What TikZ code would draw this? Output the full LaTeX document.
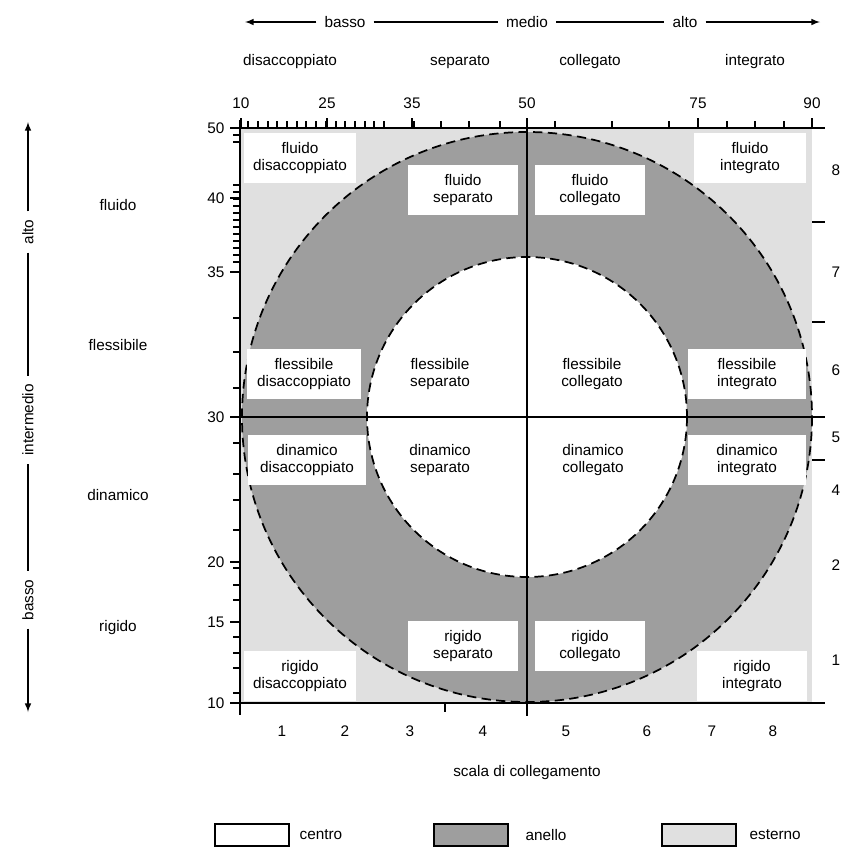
\documentclass[tikz,border=0pt]{standalone}
\usepackage{fontspec}
\setmainfont{Liberation Sans}
\definecolor{ringgray}{HTML}{9E9E9E}
\definecolor{outergray}{HTML}{E0E0E0}
\begin{document}
\begin{tikzpicture}[x=0.75pt,y=-0.75pt,
  lbl/.style={font=\fontsize{11.5}{13}\selectfont, inner sep=1pt},
  cell/.style={lbl, align=center, text width=80pt},
  cellbox/.style={cell, fill=white, minimum height=38pt},
  axisline/.style={line width=1.5pt},
  tick/.style={line width=1pt},
  dashring/.style={line width=1.3pt, dash pattern=on 7pt off 4pt},
  legbox/.style={draw=black, line width=1.4pt, minimum width=55pt, minimum height=17pt, inner sep=0pt},
  scalearrow/.style={line width=1.2pt, -latex}]
\useasboundingbox (0,0) rectangle (841,850);

% square field with the two rings
\fill[outergray] (240,128) rectangle (812,703);
\fill[ringgray] (527,417) circle[radius=285];
\fill[white] (527,417) circle[radius=160];
\draw[dashring] (527,417) circle[radius=285];
\draw[dashring] (527,417) circle[radius=160];

% cells
\node[cellbox, text width=82pt] (fd) at (300,158) {fluido\\disaccoppiato};
\node[cellbox] (fs) at (463,190) {fluido\\separato};
\node[cellbox] (fc) at (590,190) {fluido\\collegato};
\node[cellbox, text width=82pt] (fi) at (750,158) {fluido\\integrato};

\node[cellbox, text width=83pt] (ld) at (304,374) {flessibile\\disaccoppiato};
\node[cell] (ls) at (440,374) {flessibile\\separato};
\node[cell] (lc) at (592,374) {flessibile\\collegato};
\node[cellbox, text width=86pt] (li) at (747,374) {flessibile\\integrato};

\node[cellbox, text width=86pt] (dd) at (307,460) {dinamico\\disaccoppiato};
\node[cell] (ds) at (440,460) {dinamico\\separato};
\node[cell] (dc) at (593,460) {dinamico\\collegato};
\node[cellbox, text width=86pt] (di) at (747,460) {dinamico\\integrato};

\node[cellbox] (rs) at (463,646) {rigido\\separato};
\node[cellbox] (rc) at (590,646) {rigido\\collegato};
\node[cellbox, text width=82pt] (rd) at (300,676) {rigido\\disaccoppiato};
\node[cellbox, text width=80pt] (ri) at (752,676) {rigido\\integrato};

% crossing axes
\draw[axisline] (527,128) -- (527,712);
\draw[axisline] (240,417) -- (825,417);

% frame axes
\draw[axisline] (240,120) -- (240,712);
\draw[axisline] (232,128) -- (825,128);
\draw[axisline] (232,703) -- (825,703);

% top ticks
\foreach \x in {248,258,268,277,287,297,306,316,326,336,345,355,365,374,384,414,441,469,500,555,612,669,727,755,784}
  \draw[tick] (\x,128) -- (\x,121);
\foreach \x in {241,327,412,527,698,812}
  \draw[tick] (\x,128) -- (\x,118);
% top numbers
\foreach \x/\t in {241/10,327/25,412/35,527/50,698/75,812/90}
  \node[lbl] at (\x,103) {\t};

% left ticks
\foreach \y in {135,142,185,192,199,206,213,220,227,234,241,248,255,262,318,352,388,443,474,500,530,568,585,600,637,653,668,693}
  \draw[tick] (240,\y) -- (233,\y);
\foreach \y/\t in {128/50,198/40,272/35,417/30,562/20,622/15,703/10}
  {\draw[tick] (240,\y) -- (230,\y);
   \node[lbl, anchor=east] at (226,\y) {\t};}

% right ticks and numbers
\foreach \y in {222,322,460}
  \draw[tick] (812,\y) -- (825,\y);
\foreach \y/\t in {170/8,272/7,370/6,437/5,490/4,565/2,660/1}
  \node[lbl] at (836,\y) {\t};

% bottom ticks and numbers
\draw[tick] (240,703) -- (240,715);
\draw[tick] (445,703) -- (445,712);
\draw[tick] (527,703) -- (527,716);
\foreach \x/\t in {282/1,345/2,410/3,483/4,566/5,647/6,712/7,773/8}
  \node[lbl] at (\x,731) {\t};

\node[lbl] (xtitle) at (527,773) {scala di collegamento};

% category labels above the field
\node[lbl] (cdis) at (290,62) {disaccoppiato};
\node[lbl] (csep) at (460,62) {separato};
\node[lbl] (ccol) at (590,62) {collegato};
\node[lbl] (cint) at (755,62) {integrato};

% row labels left of the field
\node[lbl] (rfl) at (118,205) {fluido};
\node[lbl] (rfx) at (118,345) {flessibile};
\node[lbl] (rdy) at (118,495) {dinamico};
\node[lbl] (rri) at (118,628) {rigido};

% horizontal scale arrow
\coordinate (hl) at (245,22);
\coordinate (hr) at (820,22);
\node[lbl, fill=white, inner xsep=6pt] (hlow) at (345,22) {basso};
\node[lbl, fill=white, inner xsep=6pt] (hmid) at (527,22) {medio};
\node[lbl, fill=white, inner xsep=6pt] (hhigh) at (685,22) {alto};
\draw[scalearrow] (hlow) -- (hl);
\draw[line width=1.2pt] (hlow) -- (hmid);
\draw[line width=1.2pt] (hmid) -- (hhigh);
\draw[scalearrow] (hhigh) -- (hr);

% vertical scale arrow
\coordinate (vt) at (28,122);
\coordinate (vb) at (28,712);
\node[lbl, rotate=90, fill=white, inner xsep=6pt] (vhigh) at (28,232) {alto};
\node[lbl, rotate=90, fill=white, inner xsep=6pt] (vmid) at (28,420) {intermedio};
\node[lbl, rotate=90, fill=white, inner xsep=6pt] (vlow) at (28,600) {basso};
\draw[scalearrow] (vhigh) -- (vt);
\draw[line width=1.2pt] (vhigh) -- (vmid);
\draw[line width=1.2pt] (vmid) -- (vlow);
\draw[scalearrow] (vlow) -- (vb);

% legend
\node[legbox, fill=white] (lg1) at (252,835) {};
\node[lbl, anchor=west] (lt1) at (298,835) {centro};
\node[legbox, fill=ringgray] (lg2) at (471,835) {};
\node[lbl, anchor=west] (lt2) at (524,835) {anello};
\node[legbox, fill=outergray] (lg3) at (699,835) {};
\node[lbl, anchor=west] (lt3) at (748,835) {esterno};
\end{tikzpicture}
\end{document}
